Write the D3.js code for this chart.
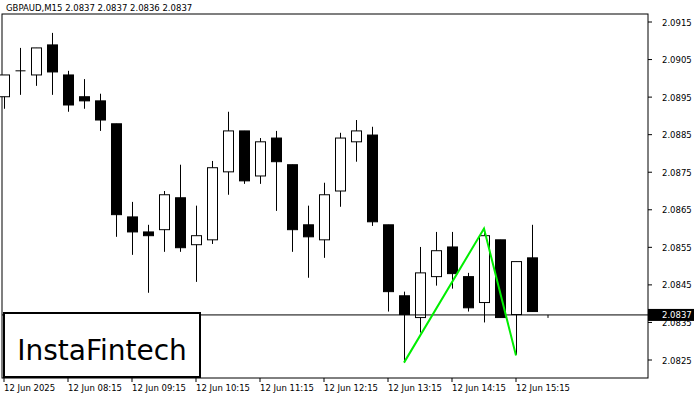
<!DOCTYPE html><html><head><meta charset="utf-8">
<script src="https://cdn.jsdelivr.net/npm/d3@7"></script>
<style>body{margin:0;background:#fff}text{font-family:"DejaVu Sans",sans-serif}</style></head><body>
<svg id="c" width="700" height="400"></svg>
<script>
const opens  = [2.08951,2.09020,2.09009,2.09089,2.09009,2.08951,2.08940,2.08879,2.08631,2.08591,2.08597,2.08682,2.08557,2.08570,2.08751,2.08860,2.08740,2.08841,2.08770,2.08610,2.08570,2.08700,2.08831,2.08849,2.08610,2.08421,2.08363,2.08472,2.08551,2.08472,2.08403,2.08570,2.08371,2.08522];
const closes = [2.09009,2.09020,2.09081,2.09017,2.08929,2.08940,2.08889,2.08637,2.08591,2.08581,2.08690,2.08549,2.08581,2.08762,2.08860,2.08727,2.08831,2.08778,2.08597,2.08578,2.08690,2.08841,2.08860,2.08618,2.08432,2.08371,2.08482,2.08541,2.08480,2.08389,2.08581,2.08363,2.08512,2.08379];
const highs  = [2.09009,2.09081,2.09081,2.09121,2.09020,2.08998,2.08959,2.08879,2.08671,2.08610,2.08700,2.08770,2.08661,2.08780,2.08911,2.08860,2.08841,2.08860,2.08770,2.08661,2.08722,2.08855,2.08889,2.08871,2.08610,2.08432,2.08551,2.08591,2.08591,2.08482,2.08594,2.08570,2.08512,2.08610];
const lows   = [2.08919,2.08956,2.08980,2.08956,2.08911,2.08919,2.08860,2.08578,2.08530,2.08429,2.08538,2.08538,2.08458,2.08559,2.08690,2.08719,2.08719,2.08647,2.08538,2.08469,2.08522,2.08658,2.08778,2.08607,2.08379,2.08243,2.08323,2.08448,2.08440,2.08379,2.08350,2.08363,2.08264,2.08379];
const priceTicks = [2.0915,2.0905,2.0895,2.0885,2.0875,2.0865,2.0855,2.0845,2.0835,2.0825];
const timeLabels = ["12 Jun 2025","12 Jun 08:15","12 Jun 09:15","12 Jun 10:15","12 Jun 11:15","12 Jun 12:15","12 Jun 13:15","12 Jun 14:15","12 Jun 15:15"];
const patternIdx = [25,30,32];
const patternPx = [2.08243,2.08600,2.08262];
const current = 2.0837;

const svg = d3.select("#c");
const L=2,R=648,T=14,B=378;
const y = d3.scaleLinear().domain([2.0825,2.0915]).range([360,22]);
const x = d3.scaleLinear().domain([0,1]).range([4,20]);
const bw = 10;

svg.append("rect").attr("x",L).attr("y",T).attr("width",R-L).attr("height",B-T).attr("fill","none").attr("stroke","#000");
// price axis
priceTicks.forEach(p=>{
  svg.append("line").attr("x1",R).attr("x2",R+4).attr("y1",y(p)).attr("y2",y(p)).attr("stroke","#000");
  svg.append("text").attr("x",662).attr("y",y(p)+3.5).attr("font-size",8.5).text(p.toFixed(4));
});
// time axis
timeLabels.forEach((t,i)=>{
  const xi=x(i*4);
  svg.append("line").attr("x1",xi).attr("x2",xi).attr("y1",B).attr("y2",B+4).attr("stroke","#000");
  svg.append("text").attr("x",xi).attr("y",391).attr("font-size",8.5).text(t);
});
const g = svg.append("g");
opens.forEach((o,i)=>{
  const c=closes[i], cx=Math.round(x(i))+0.5;
  g.append("line").attr("x1",cx).attr("x2",cx).attr("y1",y(highs[i])).attr("y2",y(lows[i])).attr("stroke","#000").attr("stroke-width",1);
  const top=y(Math.max(o,c)), bot=y(Math.min(o,c));
  if (Math.abs(bot-top)<1) {
    g.append("line").attr("x1",cx-5).attr("x2",cx+5).attr("y1",top).attr("y2",top).attr("stroke","#000");
  } else {
    g.append("rect").attr("x",cx-bw/2).attr("y",top).attr("width",bw).attr("height",bot-top)
     .attr("fill",c<o?"#000":"#fff").attr("stroke","#000").attr("stroke-width",1);
  }
});
// current price tick
g.append("line").attr("x1",x(34)).attr("x2",x(34)).attr("y1",y(current)).attr("y2",y(current)+3).attr("stroke","#000");
// current line
svg.append("line").attr("x1",L).attr("x2",R).attr("y1",y(current)).attr("y2",y(current)).attr("stroke","#000");
// pattern
svg.append("path").attr("d",d3.line().x(d=>x(d[0])).y(d=>y(d[1]))(patternIdx.map((v,i)=>[v,patternPx[i]])))
  .attr("fill","none").attr("stroke","#00ee00").attr("stroke-width",2);
// price box
svg.append("rect").attr("x",R).attr("y",y(current)-6).attr("width",46).attr("height",12).attr("fill","#000");
svg.append("text").attr("x",662).attr("y",y(current)+3.5).attr("font-size",8.5).attr("fill","#fff").text(current.toFixed(4));
// title
svg.append("text").attr("x",6).attr("y",11).attr("font-size",8.5).text("GBPAUD,M15  2.0837 2.0837 2.0836 2.0837");
// logo
svg.append("rect").attr("x",4).attr("y",313).attr("width",196).attr("height",64).attr("fill","#fff").attr("stroke","#000").attr("stroke-width",2);
svg.append("text").attr("x",102).attr("y",360).attr("text-anchor","middle").attr("font-size",28).attr("font-family","Roboto, sans-serif").text("InstaFintech");
</script></body></html>
